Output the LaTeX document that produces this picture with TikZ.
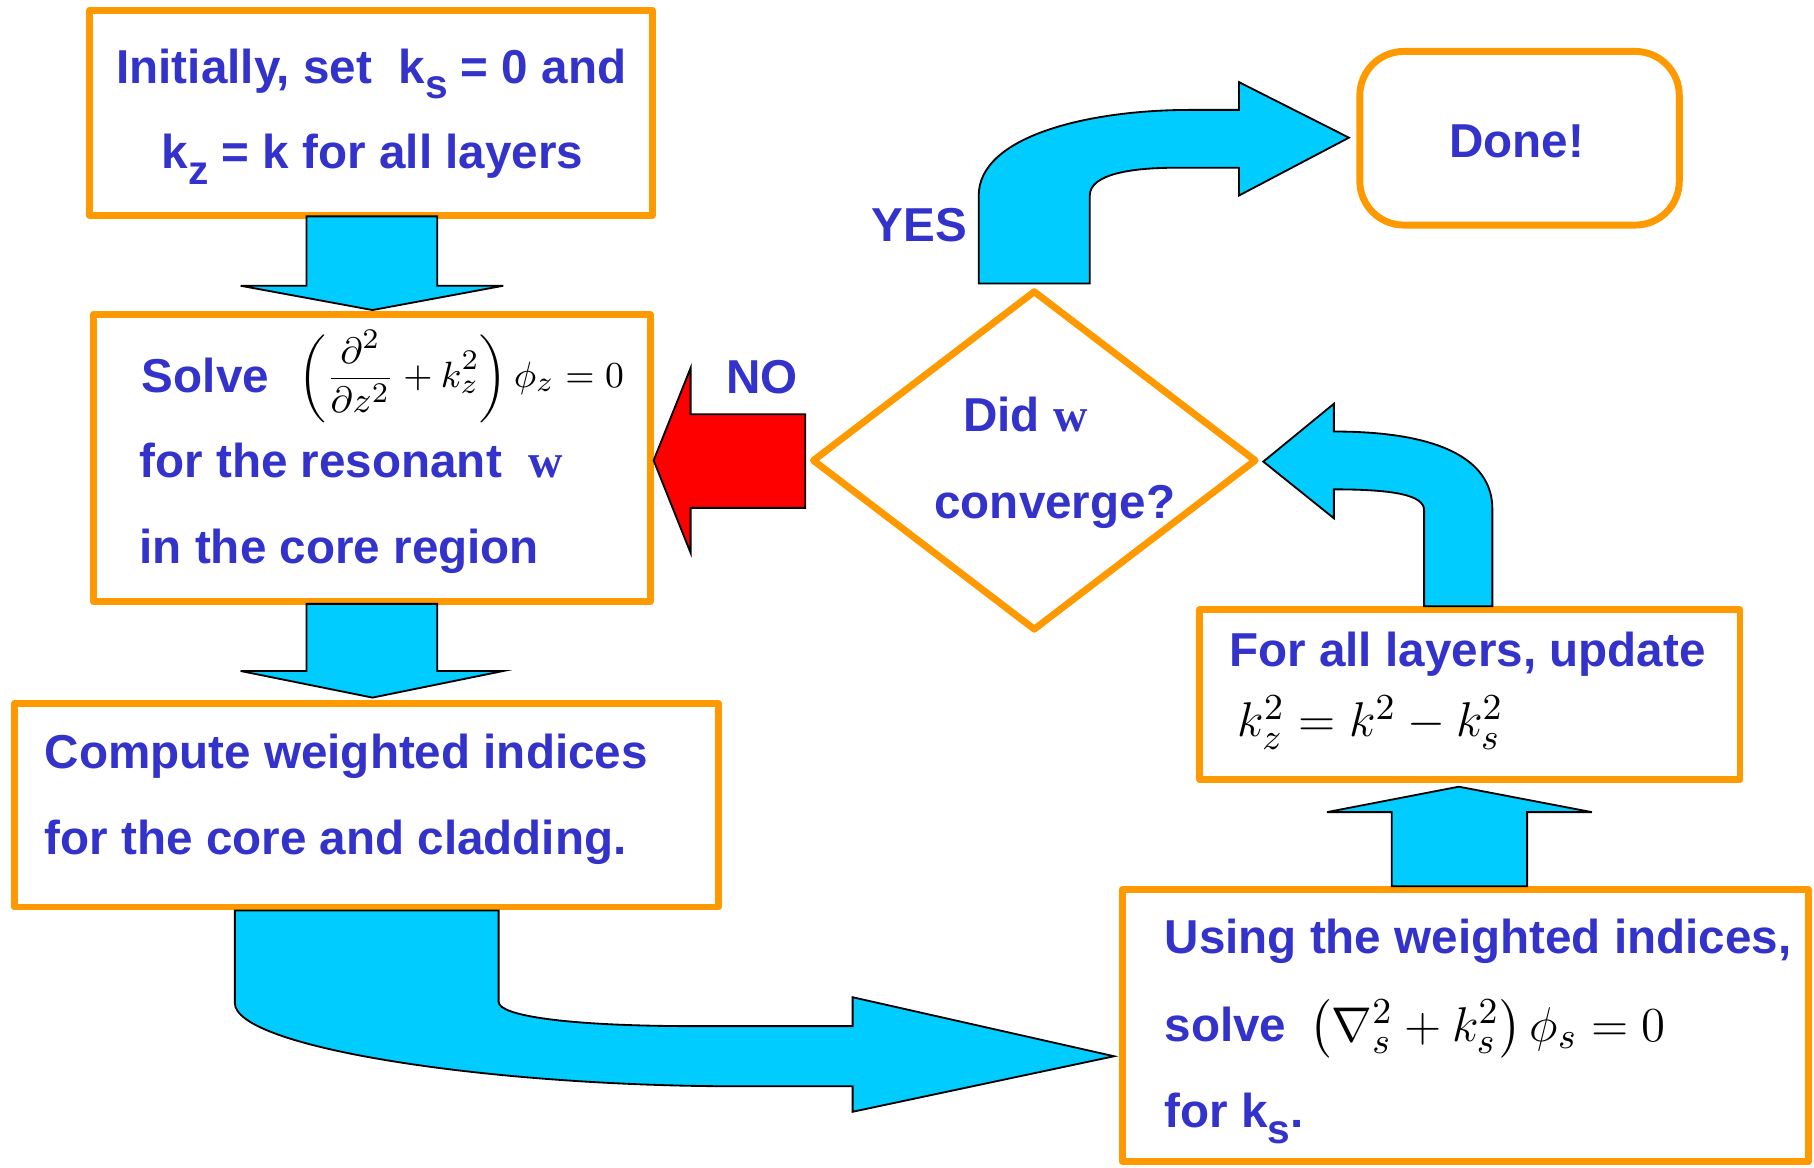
\documentclass[tikz,border=0pt]{standalone}
\usepackage[no-math]{fontspec}
\usepackage{amsmath}
\setmainfont{Liberation Sans}
\newfontfamily\wfont{Liberation Serif}
\usetikzlibrary{fit,calc,shapes.geometric}
\definecolor{orangeB}{RGB}{255,153,0}
\definecolor{textB}{RGB}{51,51,204}
\definecolor{cyanA}{RGB}{0,204,255}
\definecolor{redA}{RGB}{255,0,0}
\newcommand{\lowsub}[1]{\raisebox{-0.32em}{\fontsize{10}{10}\selectfont #1}}
\newcommand{\wsym}{{\wfont\bfseries w}}
\begin{document}
\begin{tikzpicture}[x=0.01cm,y=-0.01cm,
  obox/.style={draw=orangeB, line width=1.7pt, line join=round, inner sep=0pt, fill=white},
  txt/.style={anchor=base west, inner sep=0pt, text=textB, font=\fontsize{11.7}{14}\selectfont\bfseries},
  mth/.style={anchor=base west, inner sep=0pt},
  barrow/.style={draw=black, line width=0.45pt, fill=cyanA, line join=miter},
  rarrow/.style={draw=black, line width=0.45pt, fill=redA, line join=miter}]
\useasboundingbox (0,0) rectangle (1568,1009);

% boxes
\coordinate (b1a) at (77,9);     \coordinate (b1b) at (564,186);
\coordinate (b2a) at (80.5,272); \coordinate (b2b) at (562,520);
\coordinate (b3a) at (12.5,608); \coordinate (b3b) at (621,784);
\coordinate (b4a) at (970,769);  \coordinate (b4b) at (1563,1004);
\coordinate (b5a) at (1037,527); \coordinate (b5b) at (1504,674);
\node[obox, fit=(b1a)(b1b)] (b1) {};
\node[obox, fit=(b2a)(b2b)] (b2) {};
\node[obox, fit=(b3a)(b3b)] (b3) {};
\node[obox, fit=(b4a)(b4b)] (b4) {};
\node[obox, fit=(b5a)(b5b)] (b5) {};
\node[obox, shape=diamond, minimum width=3.84cm, minimum height=2.94cm] (dia) at (894,398) {};
\node[obox, rounded corners=0.38cm, minimum width=2.76cm, minimum height=1.5cm] (done) at (1313.5,119.5) {};

% block arrows
\draw[barrow] (265,187) -- (265,247) -- (208,247) -- (322,268) -- (435,247) -- (378,247) -- (378,187) -- cycle;
\draw[barrow] (265,522) -- (265,580) -- (208,580) -- (322,603) -- (435,580) -- (378,580) -- (378,522) -- cycle;
\draw[barrow] (203,787) -- (203,867) .. controls (203,905) and (420,939) .. (640,939) -- (737,939) -- (737,961) -- (963,913) -- (737,862) -- (737,887) -- (602,887) .. controls (490,887) and (431,878) .. (431,866) -- (431,787) -- cycle;
\draw[barrow] (1203,766) -- (1203,702) -- (1147,702) -- (1261,680) -- (1376,702) -- (1320,702) -- (1320,766) -- cycle;
\draw[barrow] (1231,524) -- (1231,441) .. controls (1231,428) and (1205,423) .. (1153,423) -- (1153,448) -- (1092,399) -- (1153,349) -- (1153,373) .. controls (1240,373) and (1290,395) .. (1290,440) -- (1290,524) -- cycle;
\draw[barrow] (846,245) -- (846,169) .. controls (846,118) and (940,95) .. (1029,95) -- (1071,95) -- (1071,71) -- (1166,119) -- (1071,169) -- (1071,145) -- (1016,145) .. controls (980,145) and (942,150) .. (942,169) -- (942,245) -- cycle;
\draw[rarrow] (696,358) -- (597,358) -- (597,318) -- (565,398) -- (597,478) -- (597,439) -- (696,439) -- cycle;

% texts
\node[txt, anchor=base] (t1a) at (321,72) {Initially, set\ \ k\lowsub{s} = 0 and};
\node[txt, anchor=base] (t1b) at (322,146) {k\lowsub{z} = k for all layers};
\node[txt] (t2a) at (122,339) {Solve};
\node[mth] (m2) at (257,335) {\fontsize{9.4}{11}\selectfont $\displaystyle\left(\frac{\partial^2}{\partial z^2}+k_z^2\right)\phi_z=0$};
\node[txt] (t2b) at (120,413) {for the resonant\ \ \wsym};
\node[txt] (t2c) at (120,487) {in the core region};
\node[txt] (t3a) at (38,664) {Compute weighted indices};
\node[txt] (t3b) at (38,739) {for the core and cladding.};
\node[txt] (t5a) at (1062,576) {For all layers, update};
\node[mth] (m5) at (1069,637) {\fontsize{12.7}{14}\selectfont $k_z^2=k^2-k_s^2$};
\node[txt] (t4a) at (1006,824) {Using the weighted indices,};
\node[txt] (t4b) at (1006,900) {solve};
\node[mth] (m4) at (1131,900) {\fontsize{12.7}{14}\selectfont $\left(\nabla_s^2+k_s^2\right)\phi_s=0$};
\node[txt] (t4c) at (1006,975) {for k\lowsub{s}.};
\node[txt] (yes) at (753,209) {YES};
\node[txt] (no) at (627,340) {NO};
\node[txt] (d1) at (832,373) {Did \wsym};
\node[txt] (d2) at (807,448) {converge?};
\node[txt, anchor=base] (dtxt) at (1311,136) {Done!};
\end{tikzpicture}
\end{document}
